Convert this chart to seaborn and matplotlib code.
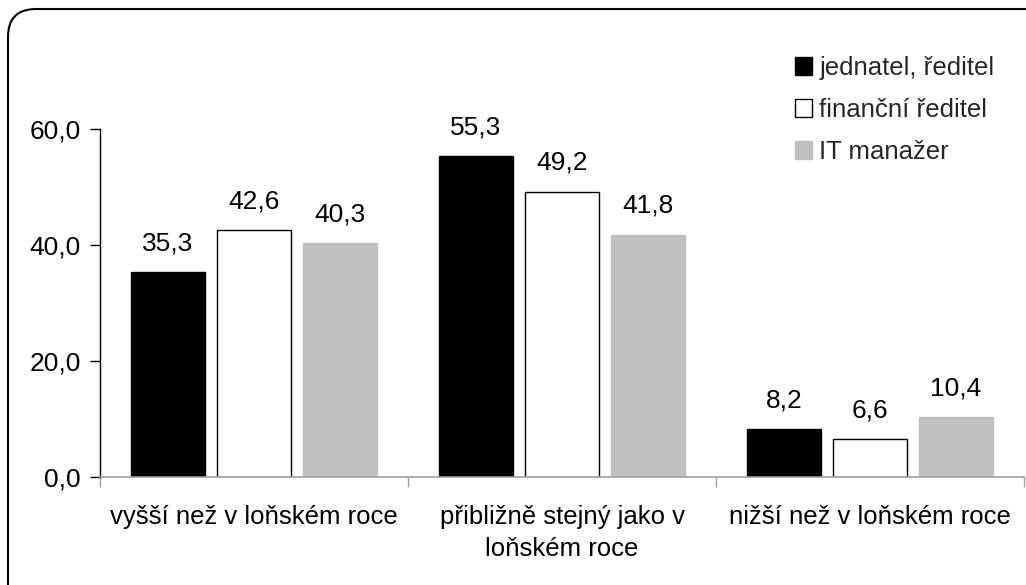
import matplotlib
matplotlib.use("Agg")
import matplotlib.pyplot as plt
from matplotlib.patches import FancyBboxPatch, Patch
import seaborn as sns
import pandas as pd

categories = ["vyšší než v loňském roce",
              "přibližně stejný jako v\nloňském roce",
              "nižší než v loňském roce"]
series = ["jednatel, ředitel", "finanční ředitel", "IT manažer"]
values = {
    "jednatel, ředitel": [35.3, 55.3, 8.2],
    "finanční ředitel": [42.6, 49.2, 6.6],
    "IT manažer": [40.3, 41.8, 10.4],
}
colors = ["#000000", "#FFFFFF", "#C0C0C0"]
edges = ["#000000", "#000000", "#C0C0C0"]
yticks = [0, 20, 40, 60]

rows = []
for s in series:
    for c, v in zip(categories, values[s]):
        rows.append({"kategorie": c, "pozice": s, "hodnota": v})
df = pd.DataFrame(rows)

sns.set_theme(style="white")
plt.rcParams["font.family"] = ["Liberation Sans", "DejaVu Sans"]

FS_TEXT = 18.5
FS_NUM = 19

fig = plt.figure(figsize=(10.26, 5.85), dpi=100)
ax = fig.add_axes([100 / 1026, 1 - 477 / 585, 924 / 1026, 348 / 585])

sns.barplot(data=df, x="kategorie", y="hodnota", hue="pozice",
            order=categories, hue_order=series, palette=colors,
            width=0.838, gap=0.15, ax=ax, legend=False, saturation=1)

for cont, ec in zip(ax.containers, edges):
    for bar in cont:
        bar.set_edgecolor(ec)
        bar.set_linewidth(1.0)
    ax.bar_label(cont, fmt=lambda v: f"{v:.1f}".replace(".", ","),
                 padding=12, fontsize=FS_NUM, color="black", clip_on=False)

ax.set_xlim(-0.5, 2.5)
ax.set_ylim(0, 60)
ax.set_yticks(yticks)
ax.set_yticklabels([f"{t:.1f}".replace(".", ",") for t in yticks])
ax.set_xlabel("")
ax.set_ylabel("")
for lbl in ax.get_xticklabels():
    lbl.set_linespacing(1.45)
ax.set_xticks([-0.5, 0.5, 1.5, 2.5], minor=True)
ax.tick_params(axis="x", which="major", length=0, pad=20, labelsize=FS_TEXT,
               labelcolor="black")
ax.tick_params(axis="x", which="minor", length=7, width=1, color="#A0A0A0",
               direction="out", bottom=True)
ax.tick_params(axis="y", which="major", length=7, width=1, color="#000000",
               direction="out", left=True, pad=7, labelsize=FS_NUM,
               labelcolor="black")
for side in ["top", "right"]:
    ax.spines[side].set_visible(False)
ax.spines["left"].set_color("#000000")
ax.spines["left"].set_linewidth(1)
ax.spines["bottom"].set_color("#A0A0A0")
ax.spines["bottom"].set_linewidth(1.2)
ax.grid(False)

handles = [Patch(facecolor=c, edgecolor=e, linewidth=1) for c, e in zip(colors, edges)]
ax.legend(handles, series, loc="upper left",
          bbox_to_anchor=(795 / 1026, 1 - 56 / 585),
          bbox_transform=fig.transFigure, frameon=False, fontsize=FS_TEXT,
          handlelength=0.65, handleheight=0.65, handletextpad=0.3,
          labelspacing=0.7, borderpad=0, borderaxespad=0)

frame = FancyBboxPatch((8, -40), 1060, 576 + 40, boxstyle="round,pad=0,rounding_size=28",
                       transform=None, facecolor="none", edgecolor="black",
                       linewidth=1.5, zorder=10)
fig.patches.append(frame)

fig.savefig("out.png", dpi=100, facecolor="white")
